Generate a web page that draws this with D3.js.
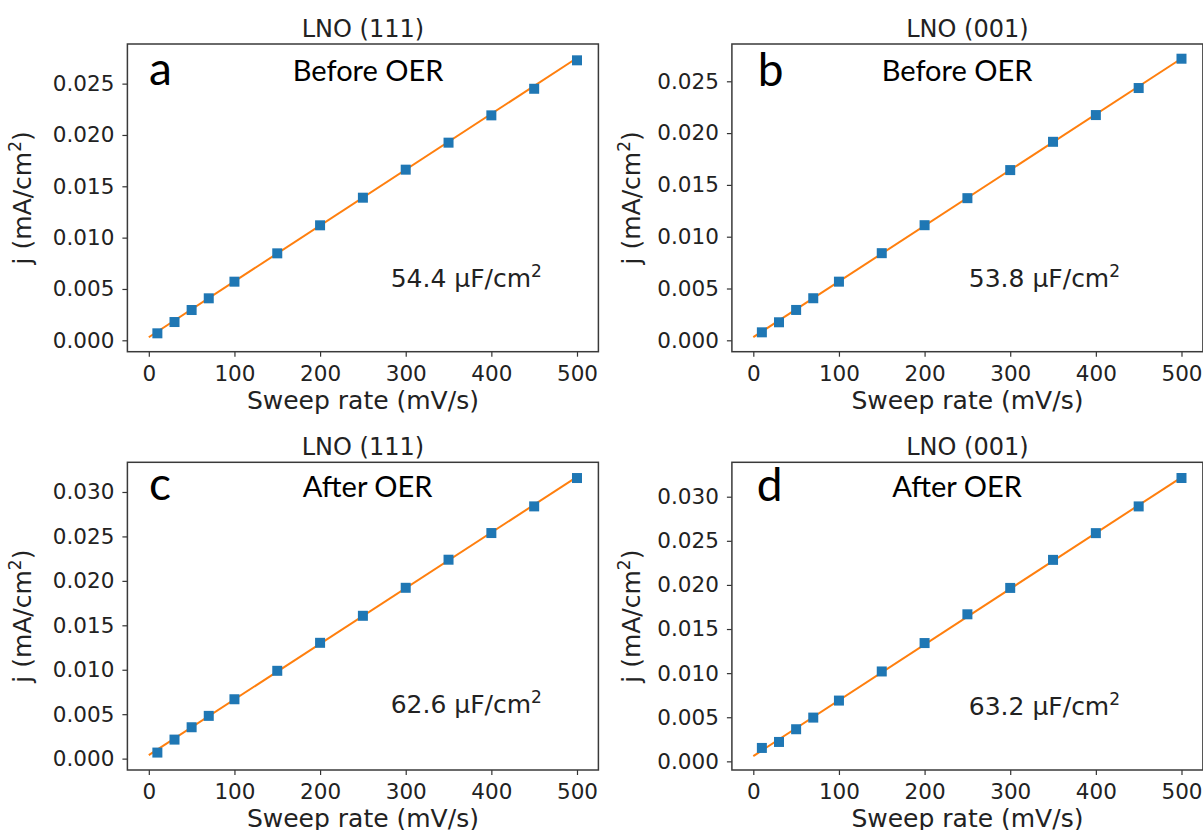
<!DOCTYPE html>
<html>
<head>
<meta charset="utf-8">
<script src="https://cdn.jsdelivr.net/npm/d3@7"></script>
<style>
  html, body { margin: 0; padding: 0; background: #fff; }
  svg { display: block; }
</style>
</head>
<body>
<div id="draw"></div>
<script>
// sweep rates (mV/s), same for every panel
const sweepRates = [10, 30, 50, 70, 100, 150, 200, 250, 300, 350, 400, 450, 500];

// current density j (mA/cm2)
const jA = [0.00068, 0.00178, 0.00295, 0.00409, 0.00571, 0.00847, 0.0112, 0.01389, 0.01662, 0.01925, 0.02191, 0.0245, 0.02727];
const jB = [0.00077, 0.00174, 0.00293, 0.00406, 0.00566, 0.00841, 0.01111, 0.01372, 0.01643, 0.01916, 0.02174, 0.02435, 0.02718];
const jC = [0.00068, 0.00214, 0.00353, 0.00481, 0.00668, 0.00988, 0.01303, 0.01607, 0.01922, 0.02238, 0.02538, 0.02838, 0.03157];
const jD = [0.00152, 0.0022, 0.00364, 0.00496, 0.00689, 0.01019, 0.01341, 0.01667, 0.01966, 0.02284, 0.02587, 0.0289, 0.03212];

// linear fit end points
const fitX = [0, 500];
const fitA = [0.0003, 0.0275];
const fitB = [0.0003, 0.0272];
const fitC = [0.0004, 0.0317];
const fitD = [0.0006, 0.0322];

const titles = ["LNO (111)", "LNO (001)", "LNO (111)", "LNO (001)"];
const letters = ["a", "b", "c", "d"];
const conditions = ["Before OER", "Before OER", "After OER", "After OER"];
const capacitance = ["54.4", "53.8", "62.6", "63.2"];

const xTicks = [0, 100, 200, 300, 400, 500];
const yTicksBefore = [0, 0.005, 0.01, 0.015, 0.02, 0.025];
const yTicksAfter = [0, 0.005, 0.01, 0.015, 0.02, 0.025, 0.03];
const xDomain = [-25, 525];
const yDomains = [[-0.00111, 0.02886], [-0.0011, 0.0286], [-0.00128, 0.03334], [-0.00098, 0.0339]];

class PanelRenderer {

    constructor(vis, opts) {
        this.vis = vis;
        this.o = opts;
    }

    render() {
        const o = this.o;
        const g = this.vis.append("g").attr("transform", "translate(" + o.left + "," + o.top + ")");
        const x = d3.scaleLinear().domain(xDomain).range([0, o.w]);
        const y = d3.scaleLinear().domain(o.yDomain).range([o.h, 0]);

        //axes
        const xAxis = g.append("g").attr("transform", "translate(0," + o.h + ")")
            .call(d3.axisBottom(x).tickValues(xTicks).tickSize(5).tickPadding(9).tickFormat(d3.format("d")));
        const yAxis = g.append("g")
            .call(d3.axisLeft(y).tickValues(o.yTicks).tickSize(5).tickPadding(8).tickFormat(d3.format(".3f")));
        [xAxis, yAxis].forEach((a) => {
            a.select(".domain").remove();
            a.selectAll(".tick line").attr("stroke", "#333").attr("stroke-width", 1.2);
            a.selectAll(".tick text").attr("fill", "#222")
                .style("font-family", "'DejaVu Sans', sans-serif").style("font-size", "21.5px");
        });

        //fit line
        const line = d3.line().x((d) => x(d[0])).y((d) => y(d[1]));
        g.append("path")
            .datum(fitX.map((v, i) => [v, o.fit[i]]))
            .attr("d", line)
            .attr("fill", "none")
            .attr("stroke", "#ff7f0e")
            .attr("stroke-width", 2);

        //square markers
        const s = 10;
        g.selectAll("rect.pt").data(sweepRates.map((v, i) => [v, o.j[i]])).enter()
            .append("rect")
            .attr("class", "pt")
            .attr("x", (d) => x(d[0]) - s / 2)
            .attr("y", (d) => y(d[1]) - s / 2)
            .attr("width", s)
            .attr("height", s)
            .attr("fill", "#1f77b4");

        //frame
        g.append("rect")
            .attr("width", o.w).attr("height", o.h)
            .attr("fill", "none").attr("stroke", "#3a3a3a").attr("stroke-width", 1.5);

        const axisFont = "'DejaVu Sans', sans-serif";
        g.append("text")
            .attr("x", o.w / 2).attr("y", -7)
            .attr("text-anchor", "middle")
            .style("font-family", axisFont).style("font-size", "24px").attr("fill", "#222")
            .text(o.title);

        g.append("text")
            .attr("x", o.w / 2).attr("y", o.h + 57)
            .attr("text-anchor", "middle")
            .style("font-family", axisFont).style("font-size", "25px").attr("fill", "#222")
            .text("Sweep rate (mV/s)");

        const yl = g.append("text")
            .attr("transform", "translate(" + o.yLabelX + "," + (o.h / 2) + ") rotate(-90)")
            .attr("text-anchor", "middle")
            .style("font-family", axisFont).style("font-size", "25px").attr("fill", "#222");
        yl.append("tspan").text("j (mA/cm");
        yl.append("tspan").attr("dy", -10).style("font-size", "17px").text("2");
        yl.append("tspan").attr("dy", 10).text(")");

        //panel letter and condition
        g.append("text")
            .attr("x", o.w * o.letterX).attr("y", o.h * o.letterY)
            .style("font-family", "Lato, sans-serif").style("font-size", "46px").attr("fill", "#000")
            .text(o.letter);
        g.append("text")
            .attr("x", o.w * o.condX).attr("y", o.h * o.condY)
            .attr("text-anchor", "middle")
            .style("font-family", "Lato, sans-serif").style("font-size", "29px").attr("fill", "#000")
            .text(o.cond);

        const cap = g.append("text")
            .attr("x", o.w * o.capX).attr("y", o.h * o.capY)
            .style("font-family", axisFont).style("font-size", "25px").attr("fill", "#222");
        cap.append("tspan").text(o.cap + " \u00b5F/cm");
        cap.append("tspan").attr("dy", -10).style("font-size", "17px").text("2");
    }
}

const vis = d3.select("#draw").append("svg")
    .attr("width", 1203)
    .attr("height", 830);

const js = [jA, jB, jC, jD];
const fits = [fitA, fitB, fitC, fitD];
const lefts = [127.4, 731.9, 127.4, 731.9];
const tops = [44, 44, 462.3, 462.3];
const layout = [
    { letterX: 0.046, letterY: 0.133, condX: 0.511, condY: 0.12, capX: 0.559, capY: 0.79 },
    { letterX: 0.055, letterY: 0.136, condX: 0.478, condY: 0.12, capX: 0.503, capY: 0.79 },
    { letterX: 0.046, letterY: 0.122, condX: 0.51, condY: 0.114, capX: 0.559, capY: 0.814 },
    { letterX: 0.053, letterY: 0.126, condX: 0.478, condY: 0.114, capX: 0.503, capY: 0.821 }
];

letters.forEach((l, i) => {
    new PanelRenderer(vis, Object.assign({
        left: lefts[i], top: tops[i], w: 471, h: 307.7,
        yDomain: yDomains[i],
        yTicks: i < 2 ? yTicksBefore : yTicksAfter,
        j: js[i], fit: fits[i],
        title: titles[i], letter: l, cond: conditions[i], cap: capacitance[i],
        yLabelX: i % 2 == 0 ? -96 : -92
    }, layout[i])).render();
});
</script>
</body>
</html>
